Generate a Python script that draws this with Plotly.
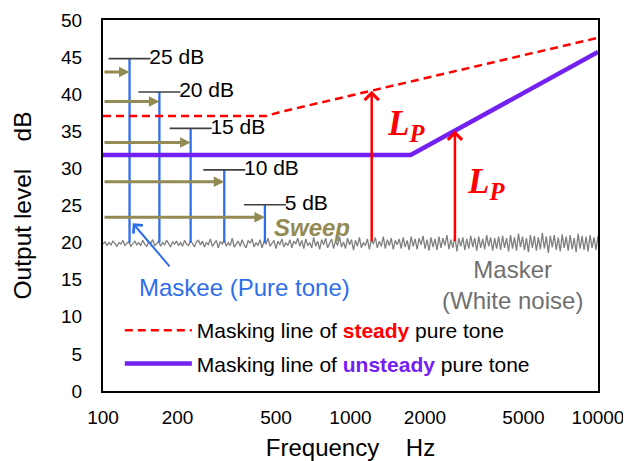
import numpy as np
import plotly.graph_objects as go

# ---------------- data ----------------
x_ticks = [100, 200, 500, 1000, 2000, 5000, 10000]
x_ticktext = ["100", "200", "500", "1000", "2000", "5000", "10000"]
y_ticks = [0, 5, 10, 15, 20, 25, 30, 35, 40, 45, 50]

# masking line of steady pure tone (red dashed)
steady_freq = [100, 455, 520, 10000]
steady_level = [37.05, 37.05, 37.6, 47.6]

# masking line of unsteady pure tone (purple)
unsteady_freq = [100, 1750, 10000]
unsteady_level = [31.8, 31.8, 45.7]

# maskee pure tones
maskee_freq = [128, 169, 226, 309, 451]
maskee_level = [44.8, 40.3, 35.4, 29.8, 25.1]
maskee_label = ["25 dB", "20 dB", "15 dB", "10 dB", "5 dB"]
maskee_base = 20.0

# sweep arrows
sweep_level = [43.0, 39.0, 33.5, 28.2, 23.4]
sweep_start = 100

# L_P arrows
lp_freq = [1218, 2642]
lp_top = [40.45, 35.1]
lp_base = 20.0

# masker (white noise) spectrum levels
noise_level = [
    19.8, 20.1, 19.6, 20.0, 19.7, 20.2, 19.9, 19.5, 20.0, 19.8, 20.3, 19.6, 19.9, 20.1, 19.5, 19.8, 20.2, 19.7, 20.0, 19.6,
    20.3, 19.8, 19.5, 20.1, 19.9, 20.4, 19.6, 19.8, 20.2, 19.5, 20.0, 19.7, 20.3, 19.9, 19.4, 20.1, 19.8, 20.2, 19.6, 20.0,
    19.5, 20.3, 19.8, 19.6, 20.2, 19.9, 19.4, 20.1, 20.3, 19.7,
    20.2, 19.4, 20.0, 19.7, 20.5, 19.5, 19.9, 20.3, 19.3, 20.1, 19.8, 20.4, 19.5, 20.0, 19.6, 20.6, 19.4, 19.9, 20.2, 19.5,
    20.4, 19.7, 19.3, 20.3, 19.9, 20.5, 19.4, 20.0, 19.6, 20.4, 19.3, 20.1, 19.8, 20.6, 19.5, 19.9, 20.3, 19.2, 20.2, 19.7,
    20.5, 19.4, 20.0, 19.6, 20.4, 19.3, 20.2, 19.8, 20.6, 19.5,
    20.3, 19.2, 20.5, 19.6, 20.0, 19.3, 20.7, 19.5, 20.2, 19.1, 20.4, 19.7, 20.6, 19.3, 19.9, 20.5, 19.2, 20.3, 19.6, 20.8,
    19.4, 20.1, 19.2, 20.6, 19.7, 20.4, 19.0, 20.3, 19.5, 20.7, 19.3, 20.0, 19.6, 20.5, 19.1, 20.4, 19.8, 20.7, 19.3, 20.2,
    19.5, 20.8, 19.2, 20.4, 19.6, 20.6, 19.1, 20.3, 19.7, 20.5,
    19.2, 20.7, 19.4, 20.3, 19.0, 20.8, 19.5, 20.5, 19.1, 20.6, 19.7, 20.9, 19.2, 20.4, 18.9, 20.7, 19.4, 20.5, 19.0, 20.8,
    19.3, 20.6, 19.6, 21.0, 19.1, 20.4, 19.3, 20.9, 18.8, 20.6, 19.5, 20.7, 19.0, 20.5, 19.2, 20.9, 19.4, 20.6, 18.9, 20.8,
    19.3, 20.5, 19.1, 21.0, 19.5, 20.7, 18.9, 20.6, 19.2, 20.8,
    19.0, 20.9, 19.3, 20.6, 18.8, 21.0, 19.2, 20.7, 18.9, 21.2, 19.4, 20.8, 19.0, 20.6, 18.7, 21.0, 19.3, 20.9, 18.9, 20.7,
    19.1, 21.3, 19.2, 20.8, 18.6, 20.9, 19.4, 21.0, 19.0, 20.7, 18.8, 21.1, 19.3, 20.8, 18.9, 21.0, 19.1, 20.6, 18.7, 21.2,
    19.2, 20.9, 19.0, 20.8, 18.8, 21.0, 19.3, 20.7, 19.0, 20.9,
]
noise_freq = np.geomspace(100, 10000, len(noise_level))

# ---------------- styles ----------------
FONT = "Arial, Liberation Sans, sans-serif"
RED = "#FF0000"
PURPLE = "#7320F2"
BLUE = "#2F6EEB"
OLIVE = "#948A54"
GRAY = "#7F7F7F"

fig = go.Figure()

# masker noise
fig.add_trace(go.Scatter(x=noise_freq, y=noise_level, mode="lines",
                         line=dict(color=GRAY, width=1.3), showlegend=False, hoverinfo="skip"))

# maskee vertical lines
mx, my = [], []
for f, lv in zip(maskee_freq, maskee_level):
    mx += [f, f, None]
    my += [maskee_base, lv, None]
fig.add_trace(go.Scatter(x=mx, y=my, mode="lines", line=dict(color=BLUE, width=2.3),
                         showlegend=False, hoverinfo="skip"))

# caps + labels
fig.add_trace(go.Scatter(x=maskee_freq, y=maskee_level, mode="markers+text",
                         marker=dict(symbol="line-ew", size=30, line=dict(color="#404040", width=1.6)),
                         text=maskee_label, textposition="middle right",
                         textfont=dict(family=FONT, size=21, color="black"),
                         showlegend=False, hoverinfo="skip"))

# masking lines
fig.add_trace(go.Scatter(x=steady_freq, y=steady_level, mode="lines",
                         line=dict(color=RED, width=2.5, dash="8px,5px"),
                         name='Masking line of <b><span style="color:#FF0000">steady</span></b> pure tone',
                         legendgroup="a"))
fig.add_trace(go.Scatter(x=unsteady_freq, y=unsteady_level, mode="lines",
                         line=dict(color=PURPLE, width=4.5),
                         name='Masking line of <b><span style="color:#7320F2">unsteady</span></b> pure tone',
                         legendgroup="b"))

lg = np.log10
annotations = []
# sweep arrows
for f, lv in zip(maskee_freq, sweep_level):
    annotations.append(dict(x=lg(f), y=lv, ax=lg(sweep_start), ay=lv, xref="x", yref="y",
                            axref="x", ayref="y", text="", showarrow=True,
                            arrowhead=2, arrowsize=0.7, arrowwidth=3, arrowcolor=OLIVE, standoff=0))
# L_P arrows
for f, top in zip(lp_freq, lp_top):
    annotations.append(dict(x=lg(f), y=top, ax=lg(f), ay=lp_base, xref="x", yref="y",
                            axref="x", ayref="y", text="", showarrow=True,
                            arrowhead=4, arrowsize=1.1, arrowwidth=2.5, arrowcolor=RED, standoff=0))
# blue pointer arrow
annotations.append(dict(x=lg(132), y=22.6, ax=lg(188), ay=16.6, xref="x", yref="y",
                        axref="x", ayref="y", text="", showarrow=True,
                        arrowhead=4, arrowsize=1.2, arrowwidth=2, arrowcolor=BLUE, standoff=0))

# texts
LP = "<b><i>L</i></b><sub><b><i>P</i></b></sub>"
annotations += [
    dict(x=lg(1676), y=35.75, xref="x", yref="y", text=LP, showarrow=False,
         font=dict(family="Liberation Serif, DejaVu Serif, serif", size=35, color=RED)),
    dict(x=lg(3542), y=27.95, xref="x", yref="y", text=LP, showarrow=False,
         font=dict(family="Liberation Serif, DejaVu Serif, serif", size=35, color=RED)),
    dict(x=lg(698), y=22.1, xref="x", yref="y", text="<b><i>Sweep</i></b>", showarrow=False,
         font=dict(family=FONT, size=24, color=OLIVE)),
    dict(x=lg(371.5), y=13.95, xref="x", yref="y", text="Maskee (Pure tone)", showarrow=False,
         font=dict(family=FONT, size=24, color=BLUE)),
    dict(x=lg(4493), y=14.35, xref="x", yref="y", text="Masker<br>(White noise)", showarrow=False,
         font=dict(family=FONT, size=24, color="#707070")),
]

fig.update_layout(
    width=623, height=453,
    margin=dict(l=95, r=33, t=12, b=70),
    paper_bgcolor="white", plot_bgcolor="white",
    font=dict(family=FONT, color="black"),
    annotations=annotations,
    legend=dict(x=0.034, y=0.218, xanchor="left", yanchor="top", itemwidth=67,
                font=dict(family=FONT, size=21, color="black"),
                bgcolor="rgba(0,0,0,0)", traceorder="grouped", tracegroupgap=3),
    xaxis=dict(type="log", range=[2, 4], tickvals=x_ticks, ticktext=x_ticktext, automargin=False,
               showgrid=False, zeroline=False, showline=True, linecolor="black", linewidth=2,
               mirror=True, ticks="", tickfont=dict(size=19, color="black"), ticklabelstandoff=8,
               title=dict(text="Frequency&nbsp;&nbsp;&nbsp;&nbsp;Hz", font=dict(size=24), standoff=14)),
    yaxis=dict(range=[0, 50], tickvals=y_ticks, showgrid=False, zeroline=False, automargin=False,
               showline=True, linecolor="black", linewidth=2, mirror=True, ticks="",
               tickfont=dict(size=19, color="black"), ticklabelstandoff=15,
               title=dict(text="Output level&nbsp;&nbsp;&nbsp;&nbsp;dB", font=dict(size=24.5), standoff=22)),
)

fig.write_html("out.html")
